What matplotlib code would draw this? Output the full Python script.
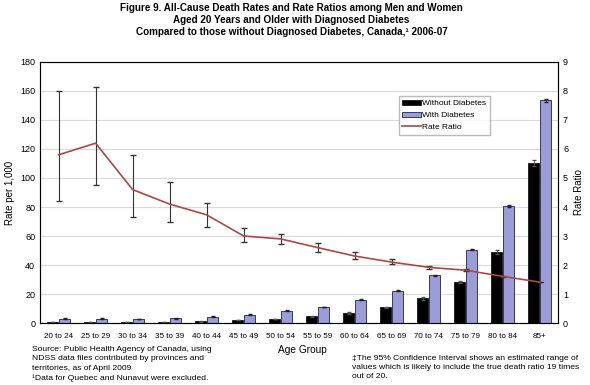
import matplotlib.pyplot as plt
import numpy as np

plt.rcParams['font.family'] = ['Liberation Sans', 'DejaVu Sans']

age_groups = ["20 to 24", "25 to 29", "30 to 34", "35 to 39", "40 to 44", "45 to 49", "50 to 54",
              "55 to 59", "60 to 64", "65 to 69", "70 to 74", "75 to 79", "80 to 84", "85+"]
without_diabetes = [0.5, 0.5, 0.6, 0.8, 1.2, 2.0, 2.8, 4.5, 6.8, 10.7, 17.0, 28.3, 49.2, 110.3]
with_diabetes = [3.0, 3.0, 2.8, 3.2, 4.3, 5.8, 8.5, 11.0, 16.0, 22.2, 32.9, 50.6, 80.8, 153.5]
without_err = [0.1, 0.1, 0.1, 0.1, 0.2, 0.2, 0.3, 0.4, 0.5, 0.6, 0.8, 1.0, 1.3, 2.2]
with_err = [0.3, 0.3, 0.3, 0.3, 0.3, 0.3, 0.3, 0.3, 0.3, 0.4, 0.4, 0.5, 0.7, 0.9]
rate_ratio = [5.8, 6.2, 4.6, 4.1, 3.73, 3.0, 2.9, 2.6, 2.31, 2.1, 1.92, 1.82, 1.61, 1.41]
ratio_low = [4.2, 4.75, 3.65, 3.47, 3.3, 2.78, 2.72, 2.46, 2.2, 2.02, 1.86, 1.79, 1.6, 1.4]
ratio_high = [8.0, 8.15, 5.8, 4.85, 4.15, 3.26, 3.08, 2.75, 2.44, 2.19, 1.98, 1.86, 1.63, 1.42]

x = np.arange(len(age_groups))
fig = plt.figure(figsize=(5.9, 3.85), dpi=100)
ax = fig.add_axes([0.068, 0.161, 0.878, 0.678])

ax.set_axisbelow(True)
ax.yaxis.grid(True, color='#dadada', linewidth=0.8)
w = 0.3
ax.bar(x - 0.16, without_diabetes, w, color='black', edgecolor='black', linewidth=0.5,
       yerr=without_err, error_kw=dict(ecolor='#555555', elinewidth=0.6, capsize=1.5), label='Without Diabetes')
ax.bar(x + 0.16, with_diabetes, w, color='#9c9cd8', edgecolor='#222244', linewidth=0.6,
       yerr=with_err, error_kw=dict(ecolor='#222222', elinewidth=0.6, capsize=1.5), label='With Diabetes')
ax.set_xlim(-0.5, 13.5)
ax.set_ylim(0, 180)
ax.set_yticks(range(0, 181, 20))
ax.set_xticks(x)
ax.set_xticklabels(age_groups, fontsize=5.8)
ax.tick_params(axis='y', labelsize=6.5, length=0)
ax.tick_params(axis='x', length=0, pad=7.5)
ax.set_ylabel("Rate per 1,000", fontsize=7)
ax.set_xlabel("Age Group", fontsize=7.3)
ax.xaxis.set_label_coords(0.506, -0.084)
for s in ax.spines.values():
    s.set_color('#555555')
    s.set_linewidth(0.8)

ax2 = ax.twinx()
ax2.set_position([0.068, 0.161, 0.878, 0.678])
rr = np.array(rate_ratio)
yerr = [rr - np.array(ratio_low), np.array(ratio_high) - rr]
ax2.errorbar(x, rr, yerr=yerr, fmt='none', ecolor='#333333', elinewidth=0.8, capsize=2)
line, = ax2.plot(x, rr, color='#a84848', linewidth=1.2, label='Rate Ratio')
ax2.set_ylim(0, 9)
ax2.set_yticks(range(0, 10))
ax2.tick_params(axis='y', labelsize=6.5, length=0)
ax2.set_ylabel("Rate Ratio", fontsize=7)

h1, l1 = ax.get_legend_handles_labels()
leg = ax2.legend(h1 + [line], l1 + ['Rate Ratio'], loc='upper left', bbox_to_anchor=(0.685, 0.885),
                 fontsize=6, frameon=True, fancybox=False, edgecolor='#aaaaaa',
                 handlelength=2.2, handletextpad=0.2, borderpad=0.4, labelspacing=0.5)

fig.text(0.494, 0.993, "Figure 9. All-Cause Death Rates and Rate Ratios among Men and Women\n"
         "Aged 20 Years and Older with Diagnosed Diabetes\n"
         "Compared to those without Diagnosed Diabetes, Canada,\u00b9 2006-07",
         ha='center', va='top', fontsize=7.1, fontweight='bold', linespacing=1.3)
fig.text(0.054, 0.101, "Source: Public Health Agency of Canada, using\n"
         "NDSS data files contributed by provinces and\n"
         "territories, as of April 2009\n"
         "\u00b9Data for Quebec and Nunavut were excluded.",
         ha='left', va='top', fontsize=6.1, linespacing=1.45)
fig.text(0.597, 0.078, "\u2021The 95% Confidence Interval shows an estimated range of\n"
         "values which is likely to include the true death ratio 19 times\n"
         "out of 20.",
         ha='left', va='top', fontsize=6.1, linespacing=1.45)

fig.savefig("out.png", dpi=100)
